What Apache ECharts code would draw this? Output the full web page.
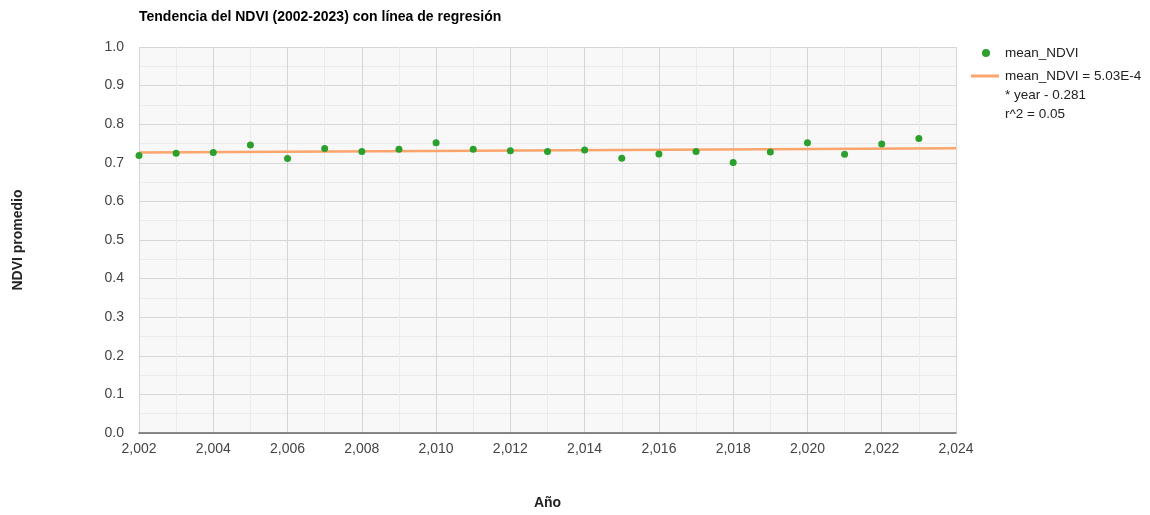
<!DOCTYPE html>
<html>
	<head>
		<meta charset="utf-8">
		<title>NDVI</title>
		<script src="https://cdn.jsdelivr.net/npm/echarts@6/dist/echarts.min.js"></script>
	</head>
	<body style="margin:0">
		<div id="box" style="width: 1150px;height: 515px;"></div>
		<script>
			// datos
			var years = [2002, 2003, 2004, 2005, 2006, 2007, 2008, 2009, 2010, 2011, 2012,
				2013, 2014, 2015, 2016, 2017, 2018, 2019, 2020, 2021, 2022, 2023]
			var meanNdvi = [0.719, 0.725, 0.727, 0.746, 0.711, 0.737, 0.729, 0.735, 0.752, 0.735, 0.731,
				0.729, 0.733, 0.712, 0.723, 0.729, 0.701, 0.728, 0.752, 0.722, 0.749, 0.763]
			// linea de tendencia (extremos)
			var trendYears = [2002, 2024]
			var trendValues = [0.727, 0.738]
			var trendName = 'mean_NDVI = 5.03E-4'
			var trendExtra = ['* year - 0.281', 'r^2 = 0.05']

			var points = []
			for (var i = 0; i < years.length; i++) {
				points.push([years[i], meanNdvi[i]])
			}
			var trend = []
			for (var j = 0; j < trendYears.length; j++) {
				trend.push([trendYears[j], trendValues[j]])
			}

			var font = 'Liberation Sans, Arial, sans-serif'
			var mCharts = echarts.init(document.querySelector('#box'))
			var option = {
				animation: false,
				textStyle: { fontFamily: font },
				title: {
					text: 'Tendencia del NDVI (2002-2023) con línea de regresión',
					left: 134,
					top: 5,
					textStyle: { fontSize: 14, fontWeight: 'bold', color: '#000', fontFamily: font }
				},
				legend: [
					{
						orient: 'vertical',
						left: 982,
						top: 46,
						padding: 0,
						itemWidth: 8,
						itemHeight: 8,
						icon: 'circle',
						data: ['mean_NDVI'],
						textStyle: { fontSize: 13.5, color: '#222', fontFamily: font, padding: [0, 0, 0, 10] }
					},
					{
						orient: 'vertical',
						left: 971,
						top: 69,
						padding: 0,
						itemWidth: 28,
						itemHeight: 3,
						icon: 'rect',
						data: [trendName],
						textStyle: { fontSize: 13.5, color: '#222', fontFamily: font, padding: [0, 0, 0, 1] }
					}
				],
				graphic: [
					{
						type: 'text',
						left: 1005,
						top: 86.5,
						style: { text: trendExtra.join('\n'), fontSize: 13.5, lineHeight: 18.5, fill: '#222', fontFamily: font }
					}
				],
				grid: {
					left: 139,
					right: 194,
					top: 47,
					bottom: 81,
					show: true,
					backgroundColor: '#f8f8f8',
					borderWidth: 0
				},
				xAxis: {
					type: 'value',
					min: 2002,
					max: 2024,
					interval: 2,
					name: 'Año',
					nameLocation: 'middle',
					nameGap: 63,
					nameTextStyle: { fontSize: 14, fontWeight: 'bold', color: '#222', fontFamily: font },
					axisLine: { show: true, lineStyle: { color: '#666', width: 1.5 } },
					axisTick: { show: false },
					axisLabel: {
						color: '#444',
						fontSize: 14,
						margin: 9,
						formatter: function (v) { return v.toLocaleString('en-US') }
					},
					splitLine: { show: true, lineStyle: { color: '#d6d6d6' } },
					minorTick: { show: false, splitNumber: 2 },
					minorSplitLine: { show: true, lineStyle: { color: '#ebebeb' } }
				},
				yAxis: {
					type: 'value',
					min: 0,
					max: 1,
					interval: 0.1,
					name: 'NDVI promedio',
					nameLocation: 'middle',
					nameGap: 114,
					nameTextStyle: { fontSize: 14, fontWeight: 'bold', color: '#222', fontFamily: font },
					axisLine: { show: false },
					axisTick: { show: false },
					axisLabel: {
						color: '#444',
						fontSize: 14,
						margin: 15,
						formatter: function (v) { return v.toFixed(1) }
					},
					splitLine: { show: true, lineStyle: { color: '#d6d6d6' } },
					minorTick: { show: false, splitNumber: 2 },
					minorSplitLine: { show: true, lineStyle: { color: '#ebebeb' } }
				},
				series: [
					{
						name: trendName,
						type: 'line',
						data: trend,
						showSymbol: false,
						symbol: 'none',
						lineStyle: { color: '#fba46c', width: 2.5 },
						itemStyle: { color: '#fba46c' },
						z: 2
					},
					{
						name: 'mean_NDVI',
						type: 'scatter',
						data: points,
						symbolSize: 7,
						itemStyle: { color: '#2ca02c', opacity: 1 },
						z: 3
					}
				]
			}
			mCharts.setOption(option)
		</script>
	</body>
</html>
